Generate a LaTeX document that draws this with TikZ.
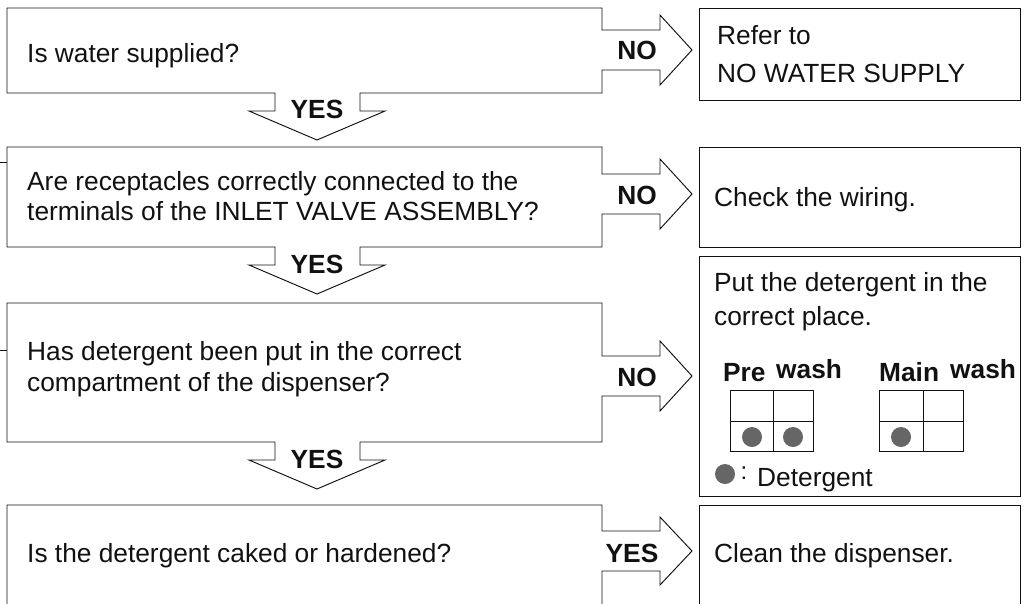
\documentclass[tikz,border=0pt]{standalone}
\usepackage{fontspec}
\setmainfont{Liberation Sans}
\definecolor{ink}{HTML}{111111}
\definecolor{dotgray}{HTML}{666666}
\newcommand\qshape[3]{%
  \draw[outline] (7,#1) -- (602,#1) -- (602,{#3-20}) -- (660,{#3-20}) -- (660,{#3-35}) -- (692,#3)
    -- (660,{#3+35}) -- (660,{#3+20}) -- (602,{#3+20}) -- (602,#2) -- (360,#2) -- (360,{#2+18})
    -- (385,{#2+18}) -- (317,{#2+47}) -- (249,{#2+18}) -- (275,{#2+18}) -- (275,#2) -- (7,#2) -- cycle;}
\begin{document}
\begin{tikzpicture}[x=1pt,y=-1pt,
  outline/.style={draw=ink,line width=0.95pt,line join=miter},
  txt/.style={anchor=base west,inner sep=0pt,text=ink,font=\fontsize{26.3}{30}\selectfont},
  lbl/.style={inner sep=0pt,text=ink,font=\bfseries\fontsize{26.3}{30}\selectfont},
  blbl/.style={anchor=base west,inner sep=0pt,text=ink,font=\bfseries\fontsize{26.3}{30}\selectfont},
  dot/.style={fill=dotgray,draw=none}]
\useasboundingbox (0,0) rectangle (1026,603);
\clip (0,0) rectangle (1026,603);

% left question shapes (box + NO arrow + YES arrow)
\qshape{8}{93}{50}
\qshape{147}{247}{194}
\qshape{303}{442}{376}
\draw[outline] (7,615) -- (7,505) -- (602,505) -- (602,531) -- (660,531) -- (660,517) -- (692,551)
  -- (660,585) -- (660,571) -- (602,571) -- (602,615);

% stubs on the left
\draw[outline] (0,162) -- (7,162);
\draw[outline] (0,350) -- (7,350);

% right answer boxes
\draw[outline] (699,8) rectangle (1020,100);
\draw[outline] (699,147) rectangle (1020,247);
\draw[outline] (699,256) rectangle (1020,496);
\draw[outline] (699,615) -- (699,505) -- (1020,505) -- (1020,615);

% question texts
\node[txt] (q1) at (27,62) {Is water supplied?};
\node[txt] (q2a) at (27,190) {Are receptacles correctly connected to the};
\node[txt] (q2b) at (27,220) {terminals of the INLET VALVE ASSEMBLY?};
\node[txt] (q3a) at (27,360) {Has detergent been put in the correct};
\node[txt] (q3b) at (27,391) {compartment of the dispenser?};
\node[txt] (q4) at (27,562) {Is the detergent caked or hardened?};

% arrow labels
\node[lbl] (no1) at (637,50) {NO};
\node[lbl] (no2) at (637,195) {NO};
\node[lbl] (no3) at (637,377) {NO};
\node[lbl] (yes4) at (632,553) {YES};
\node[lbl] (yes1) at (317,109) {YES};
\node[lbl] (yes2) at (317,264) {YES};
\node[lbl] (yes3) at (317,459) {YES};

% answer texts
\node[txt] (a1a) at (717,44) {Refer to};
\node[txt] (a1b) at (717,82) {NO WATER SUPPLY};
\node[txt] (a2) at (714,206) {Check the wiring.};
\node[txt] (a3a) at (714,291) {Put the detergent in the};
\node[txt] (a3b) at (714,325) {correct place.};
\node[txt] (a4) at (714,562) {Clean the dispenser.};

% dispenser diagrams
\node[blbl] (pre) at (723,381) {Pre};
\node[blbl] (prew) at (776,378) {wash};
\node[blbl] (main) at (879,381) {Main};
\node[blbl] (mainw) at (950,378) {wash};
\draw[outline] (730,390) rectangle (813,451);
\draw[outline] (730,421) -- (813,421);
\draw[outline] (773,390) -- (773,451);
\draw[outline] (879,390) rectangle (963,451);
\draw[outline] (879,421) -- (963,421);
\draw[outline] (923,390) -- (923,451);
\fill[dot] (752,437) circle (10);
\fill[dot] (793,437) circle (10);
\fill[dot] (901,437) circle (10);
\fill[dot] (725,474) circle (10);
\node[inner sep=0pt,text=ink,font=\fontsize{24}{28}\selectfont] (colon) at (744,473) {:};
\node[txt] (leg) at (757,486) {Detergent};
\end{tikzpicture}
\end{document}
